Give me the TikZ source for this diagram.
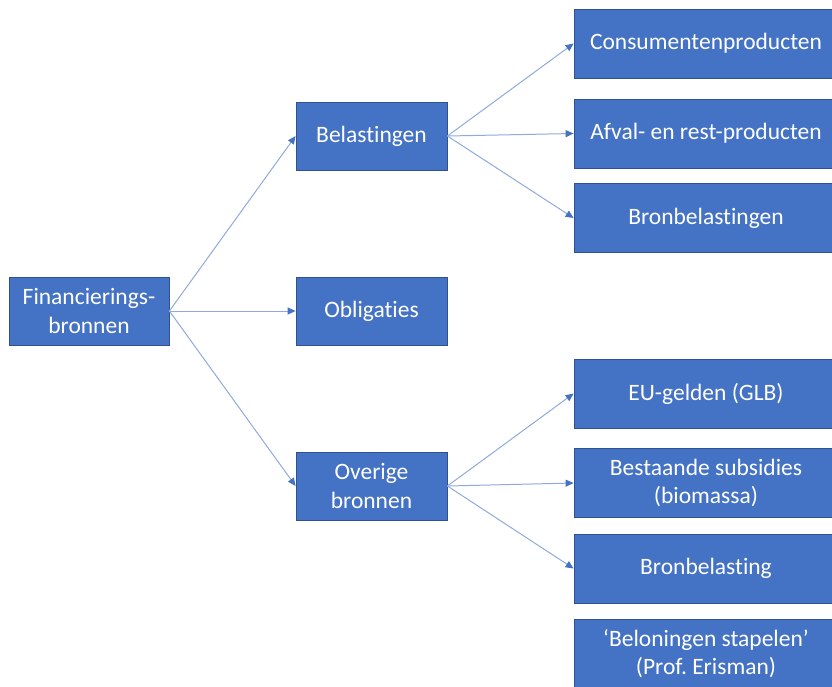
\documentclass[tikz,border=0pt]{standalone}
\usepackage{fontspec}
\setmainfont{Carlito}[Ligatures={NoCommon}]
\usetikzlibrary{arrows.meta}
\definecolor{boxfill}{HTML}{4472C4}
\definecolor{boxline}{HTML}{2F528F}
\definecolor{arrline}{HTML}{8FAADC}
\frenchspacing
\tikzset{
  box/.style={draw=boxline, line width=0.8pt, fill=boxfill, text=white, align=center,
    inner sep=0pt, font=\fontsize{23.5}{28.5}\selectfont\frenchspacing},
  leftbox/.style={box, minimum width=160pt, minimum height=68pt},
  midbox/.style={box, minimum width=151pt, minimum height=68pt},
  rightbox/.style={box, minimum width=264pt, minimum height=69pt},
  conn/.style={draw=arrline, line width=1pt, -{Triangle[length=8pt,width=7pt,color=boxfill]}}
}
\begin{document}
\begin{tikzpicture}[x=1pt,y=-1pt]
\useasboundingbox (0,0) rectangle (832,686);
\clip (0,0) rectangle (832,686);
\node[leftbox] (fin) at (89,311) {Financierings-\\bronnen};
\node[midbox] (bel) at (371.5,136) {Belastingen};
\node[midbox] (obl) at (371.5,311) {Obligaties};
\node[midbox] (ove) at (371.5,486) {Overige\\bronnen};
\node[rightbox] (cons) at (706,43.5) {Consumentenproducten};
\node[rightbox] (afv) at (706,133.5) {Afval- en rest-producten};
\node[rightbox] (brb) at (706,218) {Bronbelastingen};
\node[rightbox] (eu) at (706,393.5) {EU-gelden (GLB)};
\node[rightbox] (bes) at (706,483) {Bestaande subsidies\\(biomassa)};
\node[rightbox] (bro) at (706,568.5) {Bronbelasting};
\node[rightbox] (belo) at (706,653.5) {‘Beloningen stapelen’\\(Prof. Erisman)};
\draw[conn] (fin.east) -- (bel.west);
\draw[conn] (fin.east) -- (obl.west);
\draw[conn] (fin.east) -- (ove.west);
\draw[conn] (bel.east) -- (cons.west);
\draw[conn] (bel.east) -- (afv.west);
\draw[conn] (bel.east) -- (brb.west);
\draw[conn] (ove.east) -- (eu.west);
\draw[conn] (ove.east) -- (bes.west);
\draw[conn] (ove.east) -- (bro.west);
\end{tikzpicture}
\end{document}
